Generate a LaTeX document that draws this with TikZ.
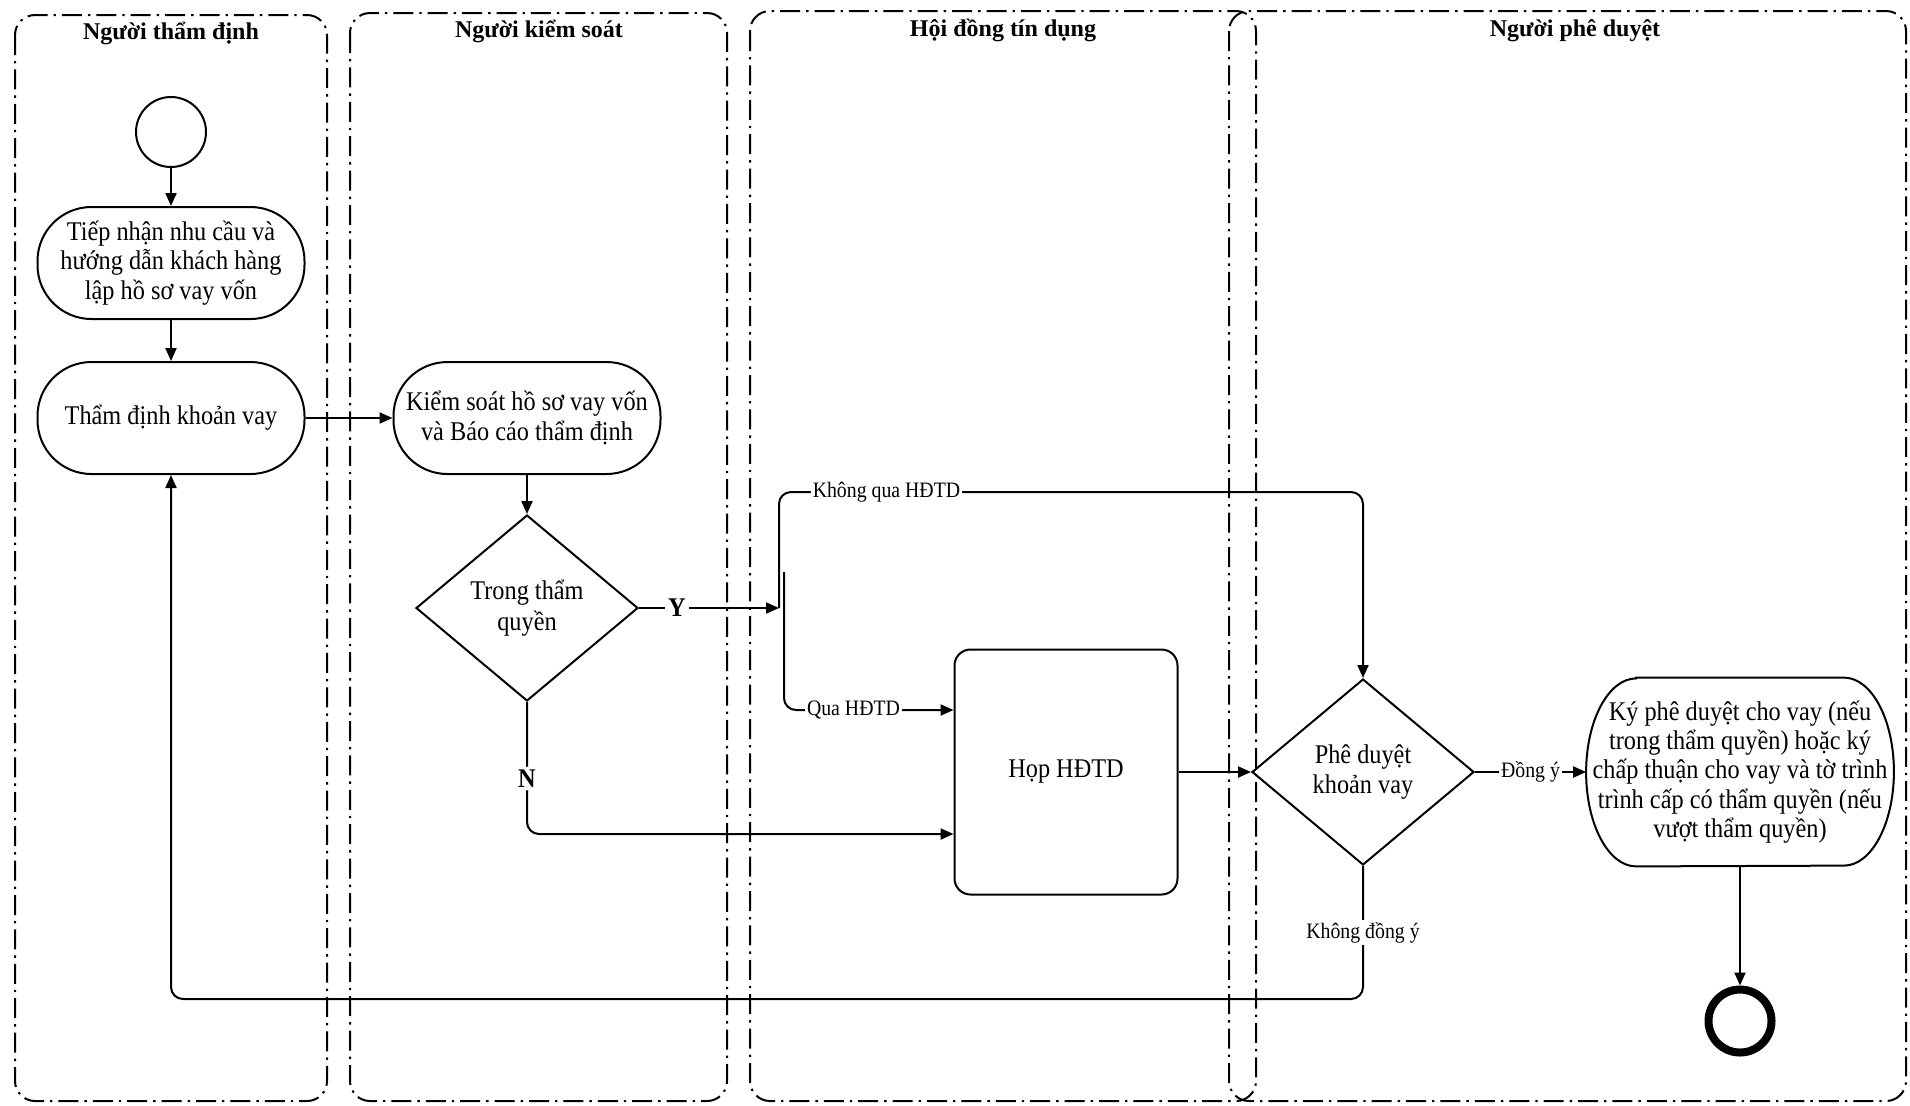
\documentclass[tikz,border=0pt]{standalone}
\usepackage{fontspec}
\setmainfont{Liberation Serif}[FakeStretch=0.9]
\newfontfamily\titlefont{Liberation Serif}
\usetikzlibrary{arrows.meta,shapes.geometric}
\begin{document}
\begin{tikzpicture}[x=0.5pt,y=-0.5pt,
  lane/.style={line width=1pt, rounded corners=10pt, dash pattern=on 10pt off 3pt on 1.2pt off 3pt},
  lanetitle/.style={font=\titlefont\fontsize{12}{14}\selectfont\bfseries, inner sep=0pt, anchor=base},
  proc/.style={draw, line width=1pt, rounded corners=27pt, minimum width=133.5pt, minimum height=56pt, align=center, inner sep=2pt, font=\fontsize{13.5}{14.8}\selectfont},
  dec/.style={draw, diamond, line width=1pt, minimum width=111pt, minimum height=93pt, aspect=1.19, inner sep=0pt, align=center, font=\fontsize{13.5}{15.2}\selectfont},
  box/.style={draw, line width=1pt, rounded corners=8pt, minimum width=111.5pt, minimum height=122.5pt, align=center, font=\fontsize{13.5}{15}\selectfont},
  kytext/.style={minimum width=153.5pt, minimum height=94pt, inner sep=0pt, align=center, font=\fontsize{13.5}{14.6}\selectfont},
  arr/.style={line width=1pt, -{Triangle[length=6.5pt,width=5.5pt]}},
  lbl/.style={fill=white, inner sep=1pt, font=\fontsize{11}{12}\selectfont},
  yn/.style={fill=white, inner sep=1.5pt, font=\fontsize{13.5}{15}\selectfont\bfseries},
]
\useasboundingbox (0,0) rectangle (1910,1105);
% swimlanes
\draw[lane] (15,15) rectangle (327,1101);
\draw[lane] (350,13) rectangle (727,1101);
\draw[lane] (750,11) rectangle (1256,1101);
\draw[lane] (1229,11) rectangle (1906,1101);
\node[lanetitle] (t1) at (171,39) {Người thẩm định};
\node[lanetitle] (t2) at (539,37) {Người kiểm soát};
\node[lanetitle] (t3) at (1003,36) {Hội đồng tín dụng};
\node[lanetitle] (t4) at (1575,36) {Người phê duyệt};
% nodes
\node[draw, circle, line width=1pt, minimum size=35pt, inner sep=0pt] (start) at (171,132) {};
\node[proc] (a) at (171,263) {Tiếp nhận nhu cầu và\\hướng dẫn khách hàng\\lập hồ sơ vay vốn};
\node[proc] (b) at (171,418) {Thẩm định khoản vay};
\node[proc] (c) at (527,418) {Kiểm soát hồ sơ vay vốn\\và Báo cáo thẩm định};
\node[dec] (d) at (527,608) {Trong thẩm\\quyền};
\node[box] (hop) at (1066,772) {Họp HĐTD};
\node[dec] (phe) at (1363,772) {Phê duyệt\\khoản vay};
\node[kytext] (ky) at (1740,772) {Ký phê duyệt cho vay (nếu\\trong thẩm quyền) hoặc ký\\chấp thuận cho vay và tờ trình\\trình cấp có thẩm quyền (nếu\\vượt thẩm quyền)};
\draw[line width=1pt] ([xshift=25pt]ky.north west) -- ([xshift=-25pt]ky.north east)
  arc[start angle=90, end angle=-90, x radius=25pt, y radius=47pt]
  -- ([xshift=25pt]ky.south west)
  arc[start angle=270, end angle=90, x radius=25pt, y radius=47pt] -- cycle;
\node[draw, circle, line width=4pt, minimum size=31.5pt, inner sep=0pt] (end) at (1740,1021) {};
% helper coordinates
\coordinate (fork1) at (779,608);
\coordinate (fork2) at (784,572);
\coordinate (kqy) at (0,492);
\coordinate (qy) at (0,710);
\coordinate (ny) at (0,834);
\coordinate (by) at (0,999);
% connectors
\draw[arr] (start) -- (a);
\draw[arr] (a) -- (b);
\draw[arr] (b) -- (c);
\draw[arr] (c) -- (d);
\draw[arr] (d.east) -- node[yn, pos=0.27] {Y} (fork1);
\draw[arr, rounded corners=6pt] (fork1) -- (fork1 |- kqy) -- node[lbl, pos=0.184] {Không qua HĐTD} (phe.north |- kqy) -- (phe.north);
\draw[arr, rounded corners=6pt] (fork2) -- (fork2 |- qy) -- node[lbl, pos=0.41] {Qua HĐTD} (hop.west |- qy);
\draw[arr, rounded corners=6pt] (d.south) -- node[yn, pos=0.58] {N} (d.south |- ny) -- (hop.west |- ny);
\draw[arr] (hop.east) -- (phe.west);
\draw[arr] (phe.east) -- node[lbl] {Đồng ý} (ky.west);
\draw[arr] (ky.south) -- (end.north);
\draw[arr, rounded corners=6pt] (phe.south) -- node[lbl, pos=0.5] {Không đồng ý} (phe.south |- by) -| (b.south);
\end{tikzpicture}
\end{document}
